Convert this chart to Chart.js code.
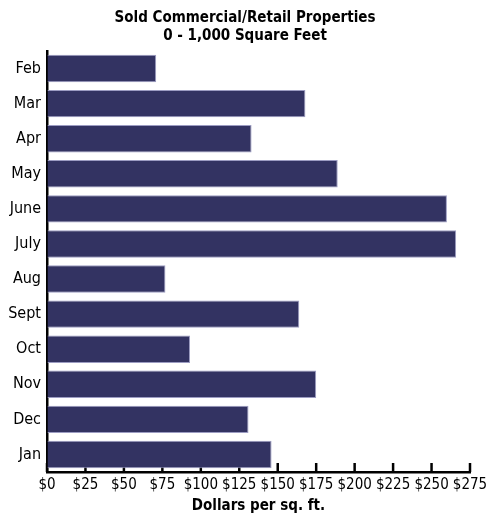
<!DOCTYPE html>
<html>
<head>
<meta charset="utf-8">
<script src="https://cdn.jsdelivr.net/npm/chart.js@4"></script>
<style>
  html, body { margin: 0; padding: 0; background: #fff; }
  #wrap { width: 490px; height: 516px; }
</style>
</head>
<body>
<div id="wrap"><canvas id="chart" width="490" height="516"></canvas></div>
<script>
const months = ['Feb', 'Mar', 'Apr', 'May', 'June', 'July', 'Aug', 'Sept', 'Oct', 'Nov', 'Dec', 'Jan'];
const dollarsPerSqFt = [71, 168, 133, 189, 260, 266, 77, 164, 93, 175, 131, 146];
const tickValues = [0, 25, 50, 75, 100, 125, 150, 175, 200, 225, 250, 275];

const font = "'Liberation Sans Narrow', 'DejaVu Sans Condensed', 'Arial Narrow', sans-serif";

// tick marks on the x axis point up into the plot, under the bars
const innerTicks = {
  id: 'innerTicks',
  beforeDatasetsDraw(chart) {
    const { ctx, scales: { x }, chartArea } = chart;
    ctx.save();
    ctx.strokeStyle = '#000';
    ctx.lineWidth = 2.5;
    tickValues.forEach(v => {
      const px = x.getPixelForValue(v);
      ctx.beginPath();
      ctx.moveTo(px, chartArea.bottom);
      ctx.lineTo(px, chartArea.bottom - 9);
      ctx.stroke();
    });
    ctx.restore();
  }
};

new Chart(document.getElementById('chart'), {
  type: 'bar',
  data: {
    labels: months,
    datasets: [{
      data: dollarsPerSqFt,
      backgroundColor: '#333362',
      borderColor: '#9c9cc2',
      borderWidth: 1,
      barPercentage: 0.78,
      categoryPercentage: 1
    }]
  },
  options: {
    indexAxis: 'y',
    responsive: false,
    animation: false,
    plugins: {
      legend: { display: false },
      tooltip: { enabled: false },
      title: {
        display: true,
        text: ['Sold Commercial/Retail Properties', '0 - 1,000 Square Feet'],
        color: '#000',
        font: { family: font, size: 15, weight: 'bold', lineHeight: 1.2 },
        padding: { top: 9, bottom: 6 }
      }
    },
    scales: {
      x: {
        min: 0,
        max: 275,
        afterFit: s => { s.height = 44; s.paddingRight = 20; },
        afterBuildTicks: s => { s.ticks = tickValues.map(value => ({ value })); },
        ticks: {
          color: '#000',
          padding: 4,
          font: { family: font, size: 15 },
          maxRotation: 0,
          autoSkip: false,
          callback: v => '$' + v
        },
        grid: { display: true, drawOnChartArea: false, drawTicks: false },
        border: { display: true, color: '#000', width: 2.5 },
        title: {
          display: true,
          text: 'Dollars per sq. ft.',
          color: '#000',
          font: { family: font, size: 15, weight: 'bold' },
          padding: { top: 0, bottom: 1 }
        }
      },
      y: {
        afterFit: s => { s.width = 47; },
        ticks: {
          color: '#000',
          padding: 6,
          font: { family: font, size: 16 }
        },
        grid: { display: false, drawTicks: false },
        border: { display: true, color: '#000', width: 2.5 }
      }
    }
  },
  plugins: [innerTicks]
});
</script>
</body>
</html>
